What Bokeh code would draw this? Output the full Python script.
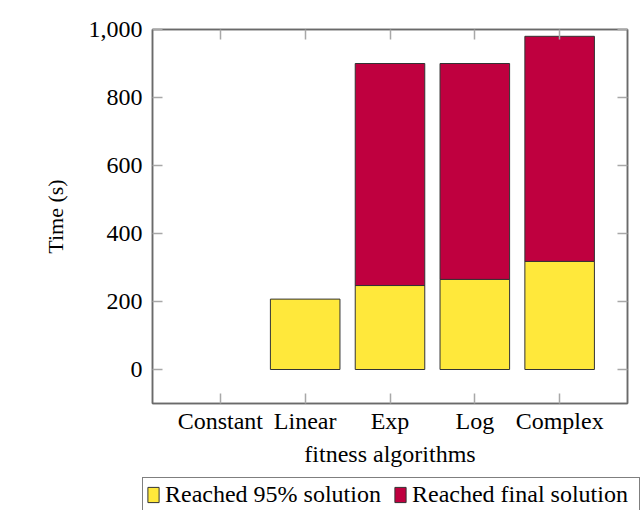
from bokeh.plotting import figure
from bokeh.layouts import column, row
from bokeh.models import (ColumnDataSource, FactorRange, Range1d, FixedTicker,
                          NumeralTickFormatter, Legend, LegendItem, LinearAxis,
                          CategoricalAxis)
from bokeh.embed import file_html
from bokeh.resources import INLINE

categories = ["Constant", "Linear", "Exp", "Log", "Complex"]
reached_95 = [0, 207, 247, 265, 318]
reached_final = [0, 207, 900, 900, 980]
y_ticks = [0, 200, 400, 600, 800, 1000]

YELLOW = "#FFE83B"
RED = "#BF003F"
FONT = "Liberation Serif"

src = ColumnDataSource(dict(
    cat=categories,
    b95=[0] * len(categories),
    t95=reached_95,
    bfin=reached_95,
    tfin=reached_final,
    a95=[1.0 if v > 0 else 0.0 for v in reached_95],
    afin=[1.0 if f > v else 0.0 for v, f in zip(reached_95, reached_final)],
))

p = figure(width=635, height=476, output_backend="svg", toolbar_location=None,
           x_range=FactorRange(factors=categories, range_padding=0.3,
                               range_padding_units="absolute"),
           y_range=Range1d(-100, 1000),
           min_border_left=152, min_border_right=8,
           min_border_top=29, min_border_bottom=73)
p.grid.visible = False
p.outline_line_color = "#6a6a6a"
p.outline_line_width = 1.5
p.background_fill_color = "white"
p.border_fill_color = "white"

r1 = p.vbar(x="cat", bottom="b95", top="t95", width=0.82, source=src,
            fill_color=YELLOW, line_color="#333333", line_alpha="a95", line_width=1)
r2 = p.vbar(x="cat", bottom="bfin", top="tfin", width=0.82, source=src,
            fill_color=RED, line_color="#333333", line_alpha="afin", line_width=1)

ticker = FixedTicker(ticks=y_ticks)

def style_axis(ax):
    ax.axis_line_color = "#6a6a6a"
    ax.axis_line_width = 1.5
    ax.major_tick_in = 10
    ax.major_tick_out = 0
    ax.major_tick_line_color = "#a8a8a8"
    ax.major_tick_line_width = 1.5
    ax.minor_tick_line_color = None
    ax.major_label_text_font = FONT
    ax.major_label_text_font_size = "24px"
    ax.major_label_text_color = "#000000"
    ax.axis_label_text_font = FONT
    ax.axis_label_text_font_size = "24px"
    ax.axis_label_text_font_style = "normal"
    ax.axis_label_text_color = "#000000"

ya = p.yaxis[0]
style_axis(ya)
ya.ticker = ticker
ya.formatter = NumeralTickFormatter(format="0,0")
ya.major_label_standoff = 10
ya.axis_label = "Time (s)"
ya.axis_label_text_font_size = "22px"
ya.axis_label_standoff = 18

xa = p.xaxis[0]
style_axis(xa)
xa.major_label_standoff = 4
xa.axis_label = "fitness algorithms"
xa.axis_label_standoff = 4

top_ax = CategoricalAxis()
style_axis(top_ax)
top_ax.major_label_text_font_size = "1px"
top_ax.major_label_text_color = None
top_ax.major_label_standoff = 0
p.add_layout(top_ax, "above")

right_ax = LinearAxis(ticker=ticker)
style_axis(right_ax)
right_ax.major_label_text_font_size = "1px"
right_ax.major_label_text_color = None
right_ax.major_label_standoff = 0
p.add_layout(right_ax, "right")

# legend strip: a second figure whose own view of the same bars lies outside its frame
p2 = figure(width=643, height=34, output_backend="svg", toolbar_location=None,
            x_range=FactorRange(factors=categories), y_range=Range1d(2000, 3000),
            x_axis_type=None, y_axis_type=None,
            min_border_left=0, min_border_right=0, min_border_top=0, min_border_bottom=0)
p2.grid.visible = False
p2.outline_line_color = None
p2.border_fill_color = "white"
l1 = p2.vbar(x="cat", bottom="b95", top="t95", width=0.82, source=src,
             fill_color=YELLOW, line_color="#333333", line_width=1)
l2 = p2.vbar(x="cat", bottom="bfin", top="tfin", width=0.82, source=src,
             fill_color=RED, line_color="#333333", line_width=1)

legend = Legend(items=[LegendItem(label="Reached 95% solution", renderers=[l1]),
                       LegendItem(label="Reached final solution", renderers=[l2])],
                orientation="horizontal", location=(142, -2))
legend.label_text_font = FONT
legend.label_text_font_size = "24px"
legend.label_text_color = "#000000"
legend.glyph_width = 14
legend.glyph_height = 19
legend.label_standoff = 5
legend.label_width = 224
legend.spacing = 4
legend.padding = 3
legend.margin = 0
legend.border_line_color = "#000000"
legend.border_line_width = 1
legend.background_fill_alpha = 1.0
p2.add_layout(legend, "center")

open("out.html", "w").write(file_html(column(p, row(p2), spacing=0), INLINE))
